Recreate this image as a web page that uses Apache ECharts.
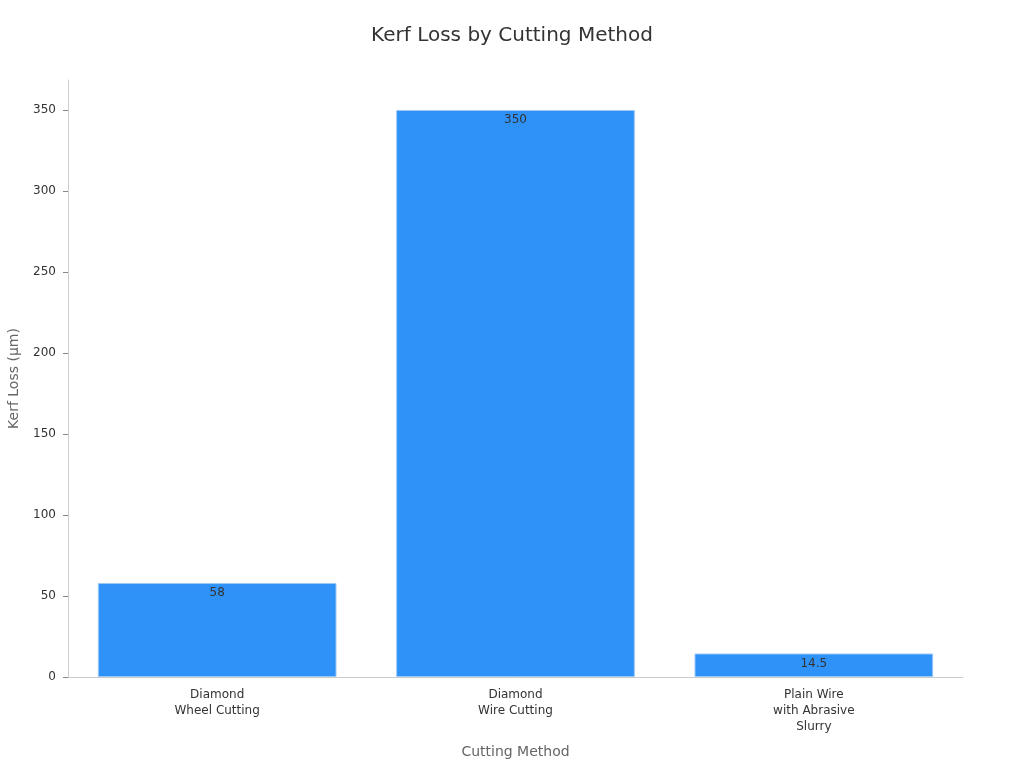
<!DOCTYPE html>
<html>
<head>
<meta charset="utf-8">
<script src="https://cdn.jsdelivr.net/npm/echarts@6/dist/echarts.min.js"></script>
<style>
  html, body { margin: 0; padding: 0; background: #fff; }
  #chart { width: 1024px; height: 768px; }
</style>
</head>
<body>
<div id="chart"></div>
<script>
var categories = ['Diamond\nWheel Cutting', 'Diamond\nWire Cutting', 'Plain Wire\nwith Abrasive\nSlurry'];
var kerfLoss = [58, 350, 14.5];
var yTicks = [0, 50, 100, 150, 200, 250, 300, 350];

var chart = echarts.init(document.getElementById('chart'));

var option = {
    backgroundColor: '#ffffff',
    textStyle: { fontFamily: 'DejaVu Sans' },
    title: {
        text: 'Kerf Loss by Cutting Method',
        left: 'center',
        top: 21,
        textStyle: { fontSize: 20, fontWeight: 'normal', color: '#333', fontFamily: 'DejaVu Sans' }
    },
    grid: { left: 68, right: 61, top: 80, bottom: 91, containLabel: false, outerBoundsMode: 'none' },
    xAxis: {
        type: 'category',
        data: categories,
        name: 'Cutting Method',
        nameLocation: 'middle',
        nameGap: 68,
        nameTextStyle: { fontSize: 14, color: '#666' },
        axisLine: { lineStyle: { color: '#ccc' } },
        axisTick: { alignWithLabel: true, length: 5, lineStyle: { color: '#888' } },
        axisLabel: { fontSize: 12, color: '#333', margin: 10, lineHeight: 16 }
    },
    yAxis: {
        type: 'value',
        min: 0,
        max: 368.5,
        interval: 50,
        name: 'Kerf Loss (µm)',
        nameLocation: 'middle',
        nameGap: 47,
        nameTextStyle: { fontSize: 14, color: '#666' },
        axisLine: { show: true, lineStyle: { color: '#ccc' } },
        axisTick: { show: true, length: 5, customValues: yTicks, lineStyle: { color: '#888' } },
        axisLabel: { fontSize: 12, color: '#333', margin: 12, customValues: yTicks },
        splitLine: { show: false }
    },
    series: [{
        type: 'bar',
        data: kerfLoss,
        barCategoryGap: '20%',
        itemStyle: { color: '#2f92f9', borderColor: '#9cc8f5', borderWidth: 1 },
        label: {
            show: true,
            position: 'insideTop',
            distance: 4,
            fontSize: 12,
            color: '#333'
        }
    }]
};

chart.setOption(option);
</script>
</body>
</html>
